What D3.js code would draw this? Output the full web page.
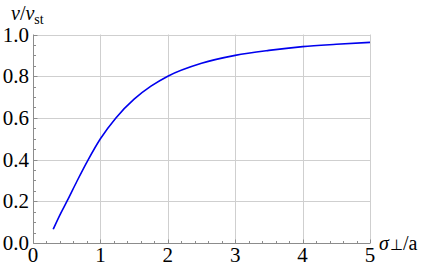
<!DOCTYPE html>
<html>
<head>
<meta charset="utf-8">
<script src="https://cdn.jsdelivr.net/npm/d3@7"></script>
<style>
  body { margin: 0; background: #fff; }
  .grid line { stroke: #cfcfcf; stroke-width: 1; }
  .axis path, .axis line { stroke: #8c8c8c; }
</style>
</head>
<body>
<div id="chart"></div>
<script>
// curve
var sigmaVals = [0.3, 0.4, 0.52, 0.65, 0.82, 1.0, 1.23, 1.5, 1.75, 2.0, 2.5, 3.0, 3.5, 4.0, 4.5, 5.0];
var ratioVals = [0.066, 0.135, 0.21, 0.295, 0.4, 0.5, 0.6, 0.69, 0.752, 0.8, 0.862, 0.9, 0.924, 0.942, 0.953, 0.962];

var xTicks = [0, 1, 2, 3, 4, 5];
var yTicks = [0, 0.2, 0.4, 0.6, 0.8, 1.0];

var width = 427, height = 274;
var margin = { top: 34.5, right: 57, bottom: 31, left: 33 };
var SERIF = "Liberation Serif";

var svg = d3.select("#chart").append("svg")
  .attr("width", width)
  .attr("height", height);

var x = d3.scaleLinear().domain([0, 5]).range([margin.left, width - margin.right]);
var y = d3.scaleLinear().domain([0, 1]).range([height - margin.bottom, margin.top]);

// grid
var grid = svg.append("g").attr("class", "grid");
grid.selectAll(".gx")
  .data(xTicks.filter(function (d) { return d > 0; }))
  .enter().append("line")
  .attr("x1", function (d) { return Math.round(x(d)) + 0.5; })
  .attr("x2", function (d) { return Math.round(x(d)) + 0.5; })
  .attr("y1", y(0)).attr("y2", y(1));
grid.selectAll(".gy")
  .data(yTicks.filter(function (d) { return d > 0; }))
  .enter().append("line")
  .attr("y1", function (d) { return Math.round(y(d)) + 0.5; })
  .attr("y2", function (d) { return Math.round(y(d)) + 0.5; })
  .attr("x1", x(0)).attr("x2", x(5));

// minor + major ticks, pointing inward
var ax = svg.append("g").attr("class", "axis");
var xMinor = d3.range(0, 5.001, 0.2);
var yMinor = d3.range(0, 1.001, 0.05);
var x0 = Math.round(x(0)) + 0.5, y0 = Math.round(y(0)) + 0.5;

ax.selectAll(".tx")
  .data(xMinor)
  .enter().append("line")
  .attr("x1", function (d) { return Math.round(x(d)) + 0.5; })
  .attr("x2", function (d) { return Math.round(x(d)) + 0.5; })
  .attr("y1", y0)
  .attr("y2", function (d, i) { return y0 - (i % 5 === 0 ? 4 : 2.5); });

ax.selectAll(".ty")
  .data(yMinor)
  .enter().append("line")
  .attr("y1", function (d) { return Math.round(y(d)) + 0.5; })
  .attr("y2", function (d) { return Math.round(y(d)) + 0.5; })
  .attr("x1", x0)
  .attr("x2", function (d, i) { return x0 + (i % 4 === 0 ? 4 : 2.5); });

ax.append("line").attr("x1", x0).attr("x2", x(5)).attr("y1", y0).attr("y2", y0);
ax.append("line").attr("x1", x0).attr("x2", x0).attr("y1", y0).attr("y2", y(1));

// tick labels
svg.selectAll(".xl")
  .data(xTicks)
  .enter().append("text")
  .attr("x", function (d) { return x(d); })
  .attr("y", 262)
  .attr("text-anchor", "middle")
  .style("font-family", SERIF)
  .style("font-size", "21px")
  .text(function (d) { return d; });

svg.selectAll(".yl")
  .data(yTicks)
  .enter().append("text")
  .attr("x", 29)
  .attr("y", function (d) { return y(d) + 7; })
  .attr("text-anchor", "end")
  .style("font-family", SERIF)
  .style("font-size", "21px")
  .text(function (d) { return d.toFixed(1); });

// curve
var pts = sigmaVals.map(function (s, i) { return [s, ratioVals[i]]; });
var line = d3.line()
  .x(function (d) { return x(d[0]); })
  .y(function (d) { return y(d[1]); })
  .curve(d3.curveMonotoneX);

svg.append("path")
  .datum(pts)
  .attr("d", line)
  .attr("fill", "none")
  .attr("stroke", "#0000ee")
  .attr("stroke-width", 1.6);

// axis labels
var yl = svg.append("text").attr("x", 11).attr("y", 20)
  .style("font-family", SERIF).style("font-size", "20px");
yl.append("tspan").style("font-style", "italic").text("ν");
yl.append("tspan").text("/");
yl.append("tspan").style("font-style", "italic").text("ν");
yl.append("tspan").attr("dy", 4).style("font-size", "14px").text("st");

var xl = svg.append("text").attr("x", 379).attr("y", 250)
  .style("font-family", SERIF).style("font-size", "20px");
xl.append("tspan").style("font-style", "italic").text("σ");
xl.append("tspan").attr("dx", 1).style("font-size", "15px").text("⊥");
xl.append("tspan").text("/a");
</script>
</body>
</html>
